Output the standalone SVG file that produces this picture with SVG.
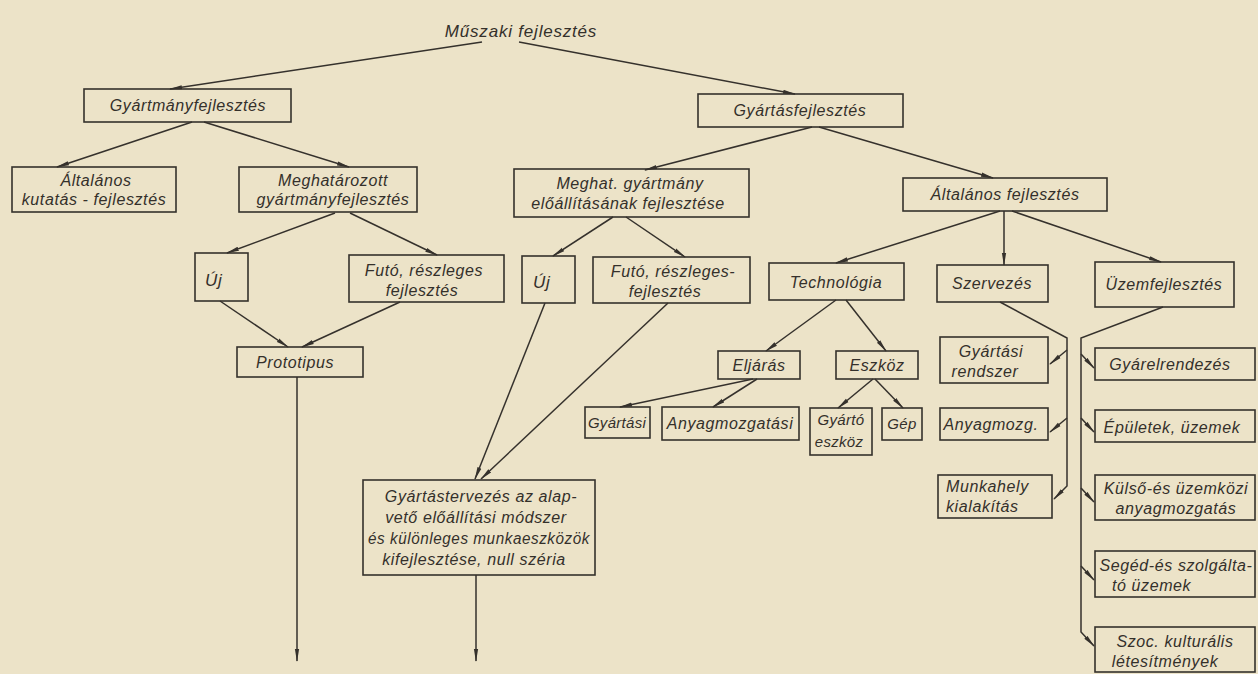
<svg xmlns="http://www.w3.org/2000/svg" width="1258" height="674" viewBox="0 0 1258 674">
<defs>
<style>
.bg{fill:#ece3c8}
.b{fill:none;stroke:#35312c;stroke-width:1.6}
.t{font-family:"Liberation Sans","DejaVu Sans",sans-serif;font-style:italic;font-size:16px;letter-spacing:0.6px;fill:#34302b;text-anchor:middle}
.s{font-size:15px;letter-spacing:0.3px}
.l{text-anchor:start}
.c{fill:none;stroke:#35312c;stroke-width:1.5}
.a{marker-end:url(#ah)}
</style>
<marker id="ah" markerWidth="13" markerHeight="6" refX="12" refY="3" orient="auto" markerUnits="userSpaceOnUse"><path d="M0,0.9 L13,3 L0,5.1 Z" fill="#35312c"/></marker>
</defs>
<rect class="bg" x="0" y="0" width="1258" height="674"/>

<g id="connectors">
<path class="c a" d="M482,42 L170,89"/>
<path class="c a" d="M519,42 L795,94"/>
<path class="c a" d="M192,122 L57,167"/>
<path class="c a" d="M204,122 L349,167"/>
<path class="c a" d="M812,127 L645,170"/>
<path class="c a" d="M819,127 L993,178"/>
<path class="c a" d="M335,213 L227,253"/>
<path class="c a" d="M350,213 L437,255"/>
<path class="c a" d="M613,217 L553,256"/>
<path class="c a" d="M626,217 L685,257"/>
<path class="c a" d="M220,301 L288,347"/>
<path class="c a" d="M400,302 L302,347"/>
<path class="c a" d="M297,377 L297,661"/>
<path class="c a" d="M545,303 L475,479"/>
<path class="c a" d="M668,303 L481,479"/>
<path class="c a" d="M476,575 L476,661"/>
<path class="c a" d="M1000,211 L836,263"/>
<path class="c a" d="M1004,211 L1004,265"/>
<path class="c a" d="M1012,211 L1161,262"/>
<path class="c a" d="M836,300 L766,351"/>
<path class="c a" d="M846,300 L886,351"/>
<path class="c a" d="M753,379 L620,407"/>
<path class="c a" d="M757,379 L713,407"/>
<path class="c a" d="M873,379 L838,408"/>
<path class="c a" d="M875,379 L903,408"/>
<path class="c a" d="M1000,302 L1067,338 L1067,486 L1054,499"/>
<path class="c a" d="M1067,350 L1050,364"/>
<path class="c a" d="M1067,418 L1050,432"/>
<path class="c a" d="M1163,307 L1081,338 L1081,632 L1094,646"/>
<path class="c a" d="M1081,354 L1094,368"/>
<path class="c a" d="M1081,418 L1094,432"/>
<path class="c a" d="M1081,488 L1094,502"/>
<path class="c a" d="M1081,566 L1094,580"/>
</g>

<g id="n-muszaki"><text class="t" x="521" y="37" style="font-size:17px;letter-spacing:0.8px">Műszaki fejlesztés</text></g>

<g id="n-gyartmanyfejl"><rect class="b" x="84" y="89" width="207" height="33"/><text class="t" x="188" y="111">Gyártmányfejlesztés</text></g>
<g id="n-altkut"><rect class="b" x="12" y="167" width="164" height="45"/><text class="t" x="96" y="186">Általános</text><text class="t" x="94" y="205">kutatás - fejlesztés</text></g>
<g id="n-meghatarozott"><rect class="b" x="239" y="167" width="178" height="45"/><text class="t" x="333" y="186">Meghatározott</text><text class="t" x="333" y="205">gyártmányfejlesztés</text></g>

<g id="n-gyartasfejl"><rect class="b" x="698" y="94" width="205" height="33"/><text class="t" x="800" y="116">Gyártásfejlesztés</text></g>
<g id="n-meghat"><rect class="b" x="514" y="169" width="235" height="48"/><text class="t" x="630" y="189">Meghat. gyártmány</text><text class="t" x="628" y="209">előállításának fejlesztése</text></g>
<g id="n-altfejl"><rect class="b" x="903" y="178" width="204" height="33"/><text class="t" x="1005" y="200">Általános fejlesztés</text></g>

<g id="n-uj1"><rect class="b" x="195" y="253" width="53" height="48"/><text class="t l" x="205" y="286" style="font-size:17px">Új</text></g>
<g id="n-futo1"><rect class="b" x="349" y="255" width="155" height="47"/><text class="t" x="424" y="276">Futó, részleges</text><text class="t" x="422" y="296">fejlesztés</text></g>
<g id="n-uj2"><rect class="b" x="522" y="256" width="53" height="47"/><text class="t l" x="533" y="288" style="font-size:17px">Új</text></g>
<g id="n-futo2"><rect class="b" x="593" y="257" width="157" height="46"/><text class="t" x="673" y="277">Futó, részleges-</text><text class="t" x="665" y="297">fejlesztés</text></g>
<g id="n-technologia"><rect class="b" x="769" y="263" width="135" height="37"/><text class="t" x="836" y="288">Technológia</text></g>
<g id="n-szervezes"><rect class="b" x="937" y="265" width="111" height="37"/><text class="t" x="992" y="289">Szervezés</text></g>
<g id="n-uzemfejl"><rect class="b" x="1095" y="262" width="139" height="45"/><text class="t" x="1164" y="290">Üzemfejlesztés</text></g>

<g id="n-prototipus"><rect class="b" x="237" y="347" width="126" height="30"/><text class="t" x="295" y="368">Prototipus</text></g>

<g id="n-eljaras"><rect class="b" x="718" y="351" width="82" height="28"/><text class="t" x="759" y="371">Eljárás</text></g>
<g id="n-eszkoz"><rect class="b" x="836" y="351" width="82" height="28"/><text class="t" x="877" y="371">Eszköz</text></g>
<g id="n-gyartasi"><rect class="b" x="585" y="407" width="65" height="31"/><text class="t s" x="617" y="428">Gyártási</text></g>
<g id="n-anyagmozgatasi"><rect class="b" x="662" y="407" width="137" height="33"/><text class="t" x="730" y="429">Anyagmozgatási</text></g>
<g id="n-gyartoeszkoz"><rect class="b" x="810" y="408" width="62" height="47"/><text class="t s" x="841" y="425">Gyártó</text><text class="t s" x="839" y="447">eszköz</text></g>
<g id="n-gep"><rect class="b" x="882" y="408" width="40" height="32"/><text class="t s" x="902" y="429">Gép</text></g>

<g id="n-gyartasirendszer"><rect class="b" x="940" y="337" width="108" height="46"/><text class="t" x="991" y="357">Gyártási</text><text class="t" x="985" y="377">rendszer</text></g>
<g id="n-anyagmozg"><rect class="b" x="940" y="408" width="108" height="32"/><text class="t" x="991" y="430">Anyagmozg.</text></g>
<g id="n-munkahely"><rect class="b" x="938" y="475" width="114" height="43"/><text class="t l" x="946" y="492">Munkahely</text><text class="t l" x="946" y="512">kialakítás</text></g>

<g id="n-gyarelrendezes"><rect class="b" x="1095" y="348" width="160" height="32"/><text class="t" x="1170" y="370">Gyárelrendezés</text></g>
<g id="n-epuletek"><rect class="b" x="1095" y="410" width="160" height="32"/><text class="t" x="1172" y="433">Épületek, üzemek</text></g>
<g id="n-kulso"><rect class="b" x="1095" y="475" width="160" height="45"/><text class="t" x="1176" y="494">Külső-és üzemközi</text><text class="t" x="1176" y="514">anyagmozgatás</text></g>
<g id="n-seged"><rect class="b" x="1095" y="551" width="160" height="46"/><text class="t" x="1176" y="571">Segéd-és szolgálta-</text><text class="t l" x="1112" y="591">tó üzemek</text></g>
<g id="n-szoc"><rect class="b" x="1095" y="627" width="160" height="45"/><text class="t" x="1175" y="647">Szoc. kulturális</text><text class="t" x="1165" y="667">létesítmények</text></g>

<g id="n-gyartastervezes"><rect class="b" x="363" y="480" width="232" height="95"/><text class="t" x="481" y="502">Gyártástervezés az alap-</text><text class="t" x="476" y="523">vető előállítási módszer</text><text class="t" x="479" y="544" textLength="222" lengthAdjust="spacingAndGlyphs">és különleges munkaeszközök</text><text class="t" x="474" y="565">kifejlesztése, null széria</text></g>
</svg>
